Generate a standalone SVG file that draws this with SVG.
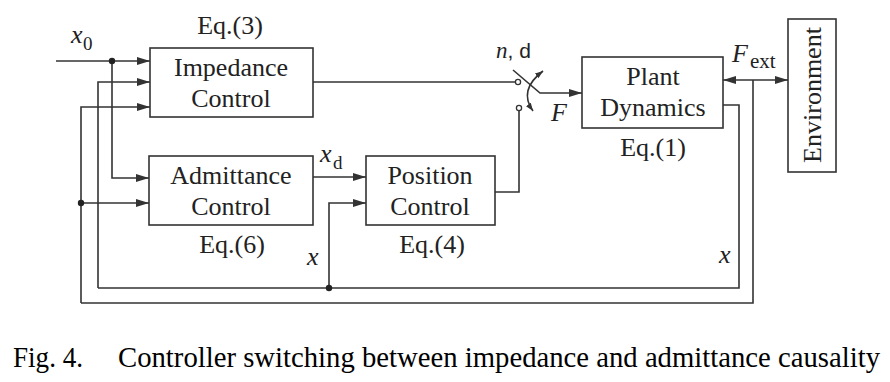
<svg xmlns="http://www.w3.org/2000/svg" width="890" height="382" viewBox="0 0 890 382">
<style>
.box{fill:#fff;stroke:#333;stroke-width:1.6}
.ln{fill:none;stroke:#333;stroke-width:1.6}
.t{font-family:"Liberation Serif","Times New Roman",serif;font-size:26px;fill:#222;text-anchor:middle}
.i{font-family:"Liberation Serif","Times New Roman",serif;font-style:italic;font-size:26px;fill:#222}
.s{font-family:"Liberation Serif","Times New Roman",serif;font-size:19px;fill:#222}
.cap{font-family:"Liberation Serif","Times New Roman",serif;font-size:28.5px;fill:#000}
</style>
<defs>
<marker id="ar" markerWidth="13" markerHeight="8" refX="13" refY="4" orient="auto-start-reverse" markerUnits="userSpaceOnUse"><path d="M0,0 L13,4 L0,8 z" fill="#333"/></marker>
<marker id="sa" markerWidth="8" markerHeight="6" refX="8" refY="3" orient="auto-start-reverse" markerUnits="userSpaceOnUse"><path d="M0,0 L8,3 L0,6 z" fill="#333"/></marker>
</defs>
<g id="connectors">
<path class="ln" d="M56,61 H150" marker-end="url(#ar)"/>
<path class="ln" d="M112,61 V178 H149" marker-end="url(#ar)"/>
<path class="ln" d="M98,288 V82 H150" marker-end="url(#ar)"/>
<path class="ln" d="M81,303 V107 H150" marker-end="url(#ar)"/>
<path class="ln" d="M81,203 H149" marker-end="url(#ar)"/>
<path class="ln" d="M313,177 H366" marker-end="url(#ar)"/>
<path class="ln" d="M329,288 V203 H366" marker-end="url(#ar)"/>
<path class="ln" d="M495,192 H519 V110.5"/>
<path class="ln" d="M313,82 H515.5"/>
<path class="ln" d="M513,70 L540,93 H582" marker-end="url(#ar)"/>
<path class="ln" d="M543,71 Q518,90 533,111" marker-start="url(#sa)" marker-end="url(#sa)"/>
<path class="ln" d="M723,80 H788" marker-start="url(#ar)" marker-end="url(#ar)"/>
<path class="ln" d="M753,80 V303 H81"/>
<path class="ln" d="M723,105 H739 V288 H98"/>
<circle cx="518" cy="82" r="2.6" fill="#fff" stroke="#333" stroke-width="1.3"/>
<circle cx="519" cy="108" r="2.6" fill="#fff" stroke="#333" stroke-width="1.3"/>
<circle cx="112" cy="61" r="3.2" fill="#222"/>
<circle cx="81" cy="203" r="3.2" fill="#222"/>
<circle cx="329" cy="288" r="3.2" fill="#222"/>
</g>
<g id="impedance">
<rect class="box" x="150" y="48" width="163" height="69"/>
<text class="t" x="231" y="76">Impedance</text>
<text class="t" x="231" y="107">Control</text>
<text class="t" x="230" y="34">Eq.(3)</text>
</g>
<g id="admittance">
<rect class="box" x="149" y="156" width="164" height="69"/>
<text class="t" x="231" y="184">Admittance</text>
<text class="t" x="231" y="215">Control</text>
<text class="t" x="232" y="253">Eq.(6)</text>
</g>
<g id="position">
<rect class="box" x="366" y="156" width="129" height="69"/>
<text class="t" x="430" y="184">Position</text>
<text class="t" x="430" y="215">Control</text>
<text class="t" x="432" y="253">Eq.(4)</text>
</g>
<g id="plant">
<rect class="box" x="582" y="57" width="141" height="71"/>
<text class="t" x="653" y="85">Plant</text>
<text class="t" x="653" y="116">Dynamics</text>
<text class="t" x="653" y="156">Eq.(1)</text>
</g>
<g id="environment">
<rect class="box" x="788" y="19" width="48" height="153"/>
<text class="t" transform="translate(821,95) rotate(-90)">Environment</text>
</g>
<g id="labels">
<text class="i" x="71" y="43">x</text><text class="s" x="83" y="50">0</text>
<text class="i" x="320" y="162">x</text><text class="s" x="333" y="169">d</text>
<text class="i" x="307" y="265">x</text>
<text class="i" x="719" y="263">x</text>
<text class="i" x="551" y="121">F</text>
<text class="i" x="732" y="62">F</text><text class="s" x="750" y="68" style="font-size:21px">ext</text>
<text x="496" y="58" style="font-family:'Liberation Sans',Arial,sans-serif;font-size:21px;fill:#222"><tspan style="font-family:'Liberation Serif',serif;font-style:italic;font-size:23px">n</tspan>, d</text>
</g>
<g id="caption">
<text class="cap" x="13" y="367" textLength="70" lengthAdjust="spacingAndGlyphs">Fig. 4.</text>
<text class="cap" x="118" y="367" textLength="762" lengthAdjust="spacingAndGlyphs">Controller switching between impedance and admittance causality</text>
</g>
</svg>
